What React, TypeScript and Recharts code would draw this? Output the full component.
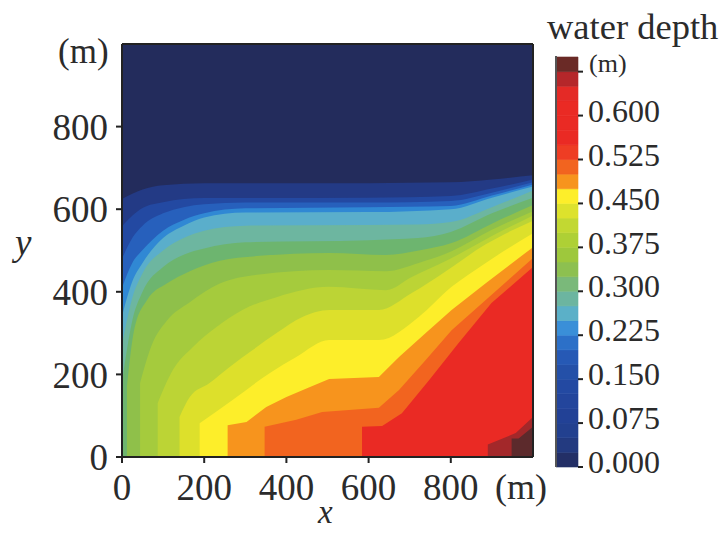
import React from 'react';
import { AreaChart, Area, BarChart, Bar, XAxis, YAxis, ReferenceLine } from 'recharts';

// contour edges: [x (m), y (m)], depth is above the level below the edge
const topFill = [[0, 1000], [1000, 1000]];
const edge025 = [[0, 625], [50, 648], [100, 658], [200, 663], [600, 663], [800, 665], [900, 672], [1000, 682]];
const edge100 = [[0, 559], [50, 603], [100, 617], [200, 627], [600, 628], [800, 632], [900, 650], [1000, 672]];
const edge160 = [[0, 480], [25, 530], [50, 560], [100, 590], [150, 605], [200, 612], [300, 616], [600, 616], [800, 620], [900, 640], [1000, 665]];
const edge200 = [[0, 410], [25, 470], [50, 501], [100, 548], [150, 574], [200, 590], [300, 602], [600, 605], [800, 608], [900, 633], [1000, 660]];
const edge250 = [[0, 340], [25, 425], [50, 470], [100, 530], [150, 560], [200, 580], [300, 592], [600, 593], [800, 600], [900, 628], [1000, 655]];
const edge275 = [[0, 270], [25, 385], [50, 445], [100, 500], [150, 530], [200, 548], [300, 560], [600, 562], [720, 563], [800, 569], [900, 605], [1000, 645]];
const edge300 = [[0, 180], [25, 330], [50, 400], [100, 460], [150, 490], [200, 505], [300, 520], [600, 525], [720, 530], [800, 545], [900, 590], [1000, 628]];
const edge325 = [[12, 170], [30, 310], [61, 380], [109, 420], [165, 450], [238, 475], [335, 487], [504, 494], [642, 489], [722, 500], [802, 518], [900, 565], [1000, 610]];
const edge350 = [[44, 179], [72, 270], [109, 330], [165, 375], [238, 420], [335, 442], [504, 453], [642, 450], [722, 470], [802, 498], [900, 550], [1000, 595]];
const edge375 = [[87, 131], [124, 211], [172, 266], [230, 315], [293, 356], [376, 387], [504, 412], [642, 404], [705, 436], [795, 478], [900, 535], [1000, 585]];
const edge400 = [[140, 97], [165, 145], [213, 179], [262, 218], [318, 259], [376, 300], [439, 339], [504, 356], [625, 356], [705, 397], [788, 450], [885, 515], [1000, 572]];
const edge425 = [[189, 82], [269, 138], [359, 203], [424, 242], [504, 283], [625, 283], [722, 339], [802, 412], [885, 470], [1000, 542]];
const edge475 = [[257, 77], [303, 85], [351, 121], [400, 145], [456, 169], [504, 189], [625, 194], [674, 242], [739, 300], [802, 356], [885, 421], [1000, 508]];
const edge500 = [[347, 73], [424, 90], [487, 109], [625, 119], [674, 162], [739, 235], [802, 307], [885, 380], [1000, 482]];
const edge525 = [[584, 73], [633, 75], [681, 106], [747, 186], [819, 276], [899, 373], [1000, 460]];
const edge650 = [[890, 30], [958, 58], [1000, 97]];
const edge675 = [[948, 45], [965, 45], [1000, 73]];

const contours = [topFill, edge025, edge100, edge160, edge200, edge250, edge275, edge300, edge325, edge350, edge375, edge400, edge425, edge475, edge500, edge525, edge650, edge675];
const contourColors = ['#232c5c', '#233a85', '#2349a2', '#2760bc', '#3088d4', '#5aaecb', '#6db6a0', '#6db56f', '#8fc04a', '#a5cb3d', '#bcd435', '#dde02b', '#fdee2a', '#f7941d', '#f2641f', '#ea2a24', '#a3282a', '#5c2a2c'];

const xByKey = new Map<number, any>();
contours.forEach((edge, i) => {
  edge.forEach(([x, y]) => {
    const row = xByKey.get(x) || { x };
    row[`c${i}`] = y;
    xByKey.set(x, row);
  });
});
const mapData = Array.from(xByKey.values()).sort((a, b) => a.x - b.x);

const xTicks = [0, 200, 400, 600, 800];
const yTicks = [0, 200, 400, 600, 800];

// colour bar, one stacked piece per 0.025 m
const barStep = 0.025;
const barColors = [
  '#232f66', '#233a80', '#22408f', '#224196', '#23459c', '#2349a2', '#2450a8', '#2659b5', '#2c70c8', '#3a8fd8',
  '#5bb0c8', '#6cb5a0', '#7ab97a', '#8dc050', '#9ec83c', '#aed035', '#c2d832', '#dde22c', '#fdee2a', '#f7941d',
  '#f2641f', '#ee3d24', '#ea2a24', '#ea2a24', '#ea2a24', '#e42a26', '#b5272a', '#6a2a26',
];
const barTicks = [0, 0.075, 0.15, 0.225, 0.3, 0.375, 0.45, 0.525, 0.6, 0.675];
const barRow: any = { name: 'depth' };
barColors.forEach((_, i) => { barRow[`s${i}`] = barStep; });

const serif = '"Liberation Serif", serif';
const axisText = { fontFamily: serif, fontSize: 37, fill: '#2b2b2b' };

const BarTick = ({ x, y, payload }: any) =>
  payload.value === 0.675 ? null : (
    <text x={x + 3} y={y - 5} dy="0.35em" fontFamily={serif} fontSize={32} fill="#2b2b2b">
      {payload.value.toFixed(3)}
    </text>
  );

const Note = ({ left, top, size, italic, children }: any) => (
  <div style={{ position: 'absolute', left, top, fontFamily: serif, fontSize: size, fontStyle: italic ? 'italic' : 'normal', color: '#2b2b2b', lineHeight: 1.2, whiteSpace: 'nowrap' }}>
    {children}
  </div>
);

export default function App() {
  return (
    <div style={{ position: 'absolute', left: 0, top: 0, width: 721, height: 533, overflow: 'hidden', background: '#fff' }}>
      <div style={{ position: 'absolute', left: 0, top: 0 }}>
        <AreaChart width={560} height={533} data={mapData} margin={{ top: 44, right: 27, bottom: 26, left: 0 }}>
          <XAxis dataKey="x" type="number" domain={[0, 1000]} ticks={xTicks} interval={0} tick={axisText} tickLine={{ stroke: '#222', strokeWidth: 2 }} tickSize={6} tickMargin={11} axisLine={{ stroke: '#222', strokeWidth: 2 }} height={50} />
          <YAxis type="number" domain={[0, 1000]} ticks={yTicks} interval={0} tick={axisText} tickLine={{ stroke: '#222', strokeWidth: 2 }} tickSize={6} tickMargin={8} axisLine={{ stroke: '#222', strokeWidth: 2 }} width={122} />
          {contours.map((_, i) => (
            <Area key={i} dataKey={`c${i}`} type={i >= 13 ? 'linear' : 'monotone'} connectNulls fill={contourColors[i]} fillOpacity={1} stroke="none" dot={false} activeDot={false} isAnimationActive={false} />
          ))}
          <ReferenceLine y={1000} stroke="#222" strokeWidth={2} />
          <ReferenceLine x={1000} stroke="#222" strokeWidth={2} />
        </AreaChart>
      </div>
      <div style={{ position: 'absolute', left: 556, top: 0 }}>
        <BarChart width={165} height={533} data={[barRow]} barCategoryGap={0} margin={{ top: 57, right: 0, bottom: 66, left: 0 }}>
          <XAxis dataKey="name" hide />
          <YAxis orientation="right" type="number" domain={[0, 0.7]} ticks={barTicks} interval={0} tick={BarTick} tickLine={{ stroke: '#222', strokeWidth: 2 }} tickSize={5} axisLine={false} width={143} />
          {barColors.map((c, i) => (
            <Bar key={i} dataKey={`s${i}`} stackId="depth" fill={c} stroke={c} strokeWidth={0.6} isAnimationActive={false} />
          ))}
        </BarChart>
      </div>
      <div style={{ position: 'absolute', left: 555, top: 56, width: 22, height: 411, borderLeft: '2px solid #555', boxSizing: 'border-box', pointerEvents: 'none' }} />
      <Note left={58} top={31} size={35}>(m)</Note>
      <Note left={495} top={466} size={36}>(m)</Note>
      <Note left={589} top={48} size={26}>(m)</Note>
      <Note left={547} top={5} size={36.5}>water depth</Note>
      <Note left={15} top={221} size={37} italic>y</Note>
      <Note left={318} top={493} size={33} italic>x</Note>
    </div>
  );
}
